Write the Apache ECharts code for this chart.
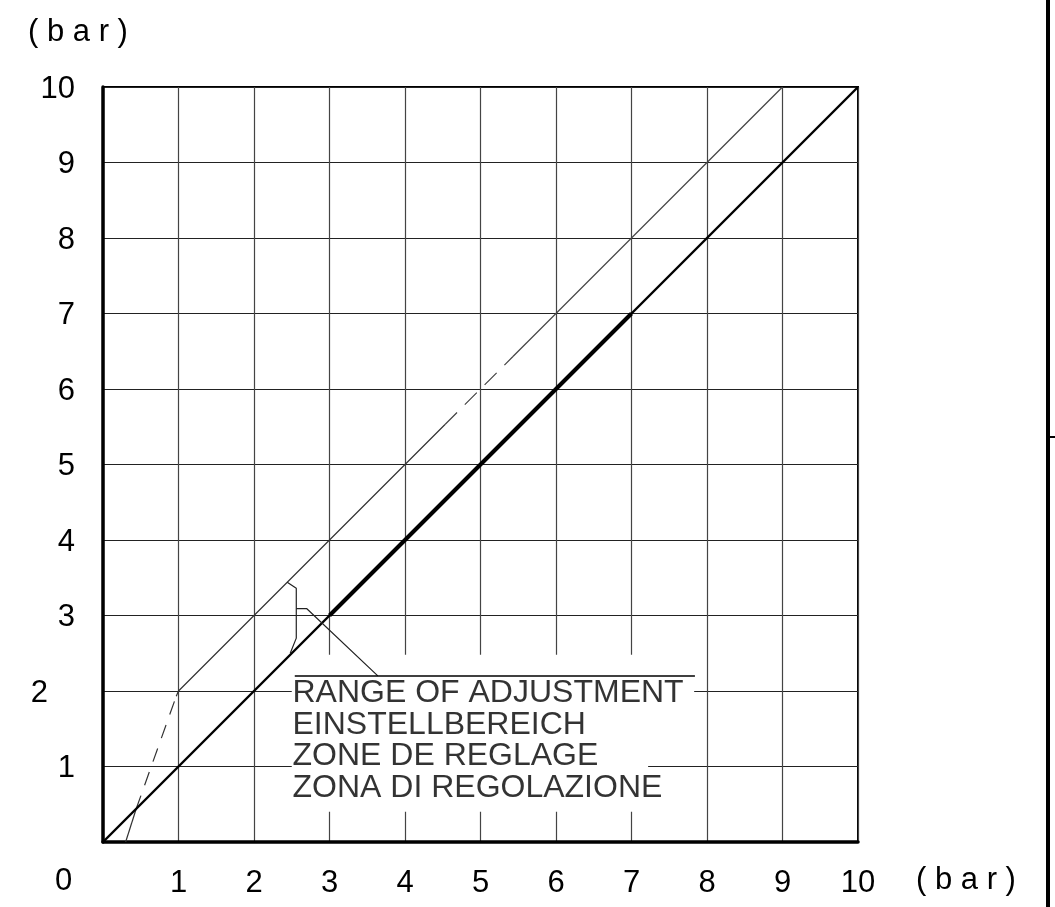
<!DOCTYPE html>
<html>
<head>
<meta charset="utf-8">
<script src="https://cdn.jsdelivr.net/npm/echarts@6/dist/echarts.min.js"></script>
<style>
  html, body { margin: 0; padding: 0; background: #fff; }
  #chart { width: 1055px; height: 907px; }
</style>
</head>
<body>
<div id="chart"></div>
<script>
// ---- data ----
const axisMin = 0;
const axisMax = 10;
const axisStep = 1;
const unitLabel = '( b a r )';
const originLabel = '0';

// upper limit curve (thin), pieces solid / dashed
const upperSolidA = [[0.30, 0.00], [0.44, 0.44]];
const upperDashA  = [[0.44, 0.44], [0.97, 1.93]];
const upperSolidB = [[0.97, 1.93], [1.00, 2.00], [4.53, 5.53]];
const upperDashB  = [[4.53, 5.53], [5.43, 6.43]];
const upperSolidC = [[5.43, 6.43], [9.00, 10.00]];

// diagonal p2 = p1
const diagLine  = [[0, 0], [10, 10]];
const thickLine = [[3, 3], [7, 7]];

// annotation bracket + leader
const bracket  = [[2.44, 3.44], [2.56, 3.36], [2.56, 2.70], [2.48, 2.50]];
const leader   = [[2.56, 3.09], [2.70, 3.09], [3.64, 2.20]];
const overline = [[2.54, 2.20], [7.84, 2.20]];

const labelLines = ['RANGE OF ADJUSTMENT', 'EINSTELLBEREICH', 'ZONE DE REGLAGE', 'ZONA DI REGOLAZIONE'];
const labelY = [1.97, 1.55, 1.14, 0.71];
const labelX = 2.51;

// white boxes behind the annotation text
const maskBoxes = [
  [[2.50, 0.40], [7.22, 2.48]],
  [[7.22, 1.25], [7.83, 2.48]],
  [[7.22, 0.40], [7.83, 0.88]]
];

// ---- chart ----
const FONT = 'Liberation Sans, Arial, sans-serif';
const chart = echarts.init(document.getElementById('chart'), null, { renderer: 'canvas' });

function lineSeries(data, width, color, type, z) {
  return {
    type: 'line', data: data, showSymbol: false, symbol: 'none', silent: true,
    lineStyle: { width: width, color: color, type: type || 'solid', cap: 'butt' },
    z: z || 3, animation: false
  };
}

const option = {
  animation: false,
  backgroundColor: '#fff',
  grid: { left: 103, right: 197, top: 87, bottom: 65, show: true, borderColor: '#000', borderWidth: 2, backgroundColor: 'transparent' },
  xAxis: {
    type: 'value', min: axisMin, max: axisMax, interval: axisStep,
    axisLine: { show: true, onZero: false, lineStyle: { color: '#000', width: 3.5 } },
    axisTick: { show: false },
    splitLine: { show: true, lineStyle: { color: '#444', width: 1.2 } },
    axisLabel: {
      margin: 26, color: '#000', fontFamily: FONT, fontSize: 31,
      formatter: v => (v === 0 ? '' : String(v)),
      showMinLabel: true, showMaxLabel: true
    }
  },
  yAxis: {
    type: 'value', min: axisMin, max: axisMax, interval: axisStep,
    axisLine: { show: true, onZero: false, lineStyle: { color: '#000', width: 3.5 } },
    axisTick: { show: false },
    splitLine: { show: true, lineStyle: { color: '#222', width: 1 } },
    axisLabel: {
      margin: 28, color: '#000', fontFamily: FONT, fontSize: 31, padding: [4, 0, 0, 0],
      formatter: v => (v === 0 ? '' : (v === 2 ? '{s|2}' : String(v))),
      rich: { s: { fontFamily: FONT, fontSize: 31, color: '#000', padding: [0, 27, 0, 0] } }
    }
  },
  series: [
    {
      type: 'line', data: [], silent: true, z: 1,
      markArea: {
        silent: true,
        itemStyle: { color: '#fff', opacity: 1, borderWidth: 0 },
        label: { show: false },
        data: maskBoxes.map(b => [{ coord: b[0] }, { coord: b[1] }])
      }
    },
    lineSeries(upperSolidA, 1.2, '#333'),
    lineSeries(upperDashA, 1.2, '#333', [14, 11]),
    lineSeries(upperSolidB, 1.2, '#333'),
    lineSeries(upperDashB, 1.2, '#444', [17, 11]),
    lineSeries(upperSolidC, 1.2, '#444'),
    lineSeries(diagLine, 2.4, '#000'),
    lineSeries(thickLine, 4, '#000', 'solid', 4),
    lineSeries(bracket, 1.2, '#222'),
    lineSeries(leader, 1.2, '#222'),
    lineSeries(overline, 1.5, '#000'),
    {
      type: 'scatter', silent: true, symbolSize: 0, z: 5,
      itemStyle: { color: '#000' },
      data: labelLines.map((t, i) => [labelX, labelY[i], t]),
      label: {
        show: true, position: 'right', distance: 0,
        formatter: p => p.data[2],
        fontFamily: FONT, fontSize: 32, color: '#000'
      }
    }
  ],
  graphic: [
    { type: 'text', left: 28, top: 17, style: { text: unitLabel, font: '31px ' + FONT, fill: '#000' } },
    { type: 'text', left: 916, top: 865, style: { text: unitLabel, font: '31px ' + FONT, fill: '#000' } },
    { type: 'text', left: 55, top: 866, style: { text: originLabel, font: '31px ' + FONT, fill: '#000' } },
    { type: 'rect', left: 1046, top: 0, shape: { width: 4, height: 907 }, style: { fill: '#000' } },
    { type: 'rect', left: 1050, top: 436, shape: { width: 5, height: 2 }, style: { fill: '#000' } }
  ]
};
chart.setOption(option);
</script>
</body>
</html>
